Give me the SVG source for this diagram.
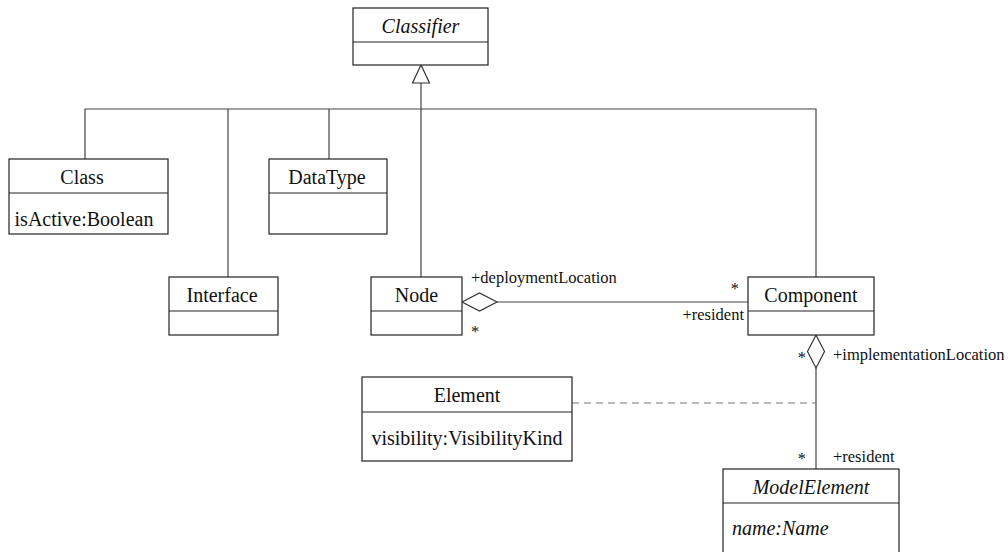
<svg xmlns="http://www.w3.org/2000/svg" width="1008" height="552" viewBox="0 0 1008 552">
<style>
.box{fill:#fff;stroke:#222;stroke-width:1.2}
.div{stroke:#222;stroke-width:1.2}
.ln{fill:none;stroke:#444;stroke-width:1.2}
.dash{fill:none;stroke:#777;stroke-width:1.2;stroke-dasharray:7 5}
.nm{font-family:"Liberation Serif",serif;font-size:20px;fill:#111;text-anchor:middle}
.at{font-family:"Liberation Serif",serif;font-size:20px;fill:#111}
.it{font-style:italic}
.lb{font-family:"Liberation Serif",serif;font-size:16.5px;fill:#111}
</style>
<rect width="1008" height="552" fill="#fff"/>
<g id="connectors">
<path class="ln" d="M85,159 V109 H816 V277"/>
<path class="ln" d="M228,109 V277"/>
<path class="ln" d="M329,109 V159"/>
<path class="ln" d="M421,83 V277"/>
<polygon points="421,65 412.5,83 429.5,83" fill="#fff" stroke="#333" stroke-width="1.2"/>
<path class="ln" d="M497,302 H748"/>
<polygon points="462,302 479.5,293 497,302 479.5,311" fill="#fff" stroke="#333" stroke-width="1.2"/>
<path class="ln" d="M816,368 V469"/>
<polygon points="816,335 824.5,351.5 816,368 807.5,351.5" fill="#fff" stroke="#333" stroke-width="1.2"/>
<path class="dash" d="M572,403 H816"/>
<text class="lb" x="471" y="283">+deploymentLocation</text>
<text class="lb" x="471" y="337">*</text>
<text class="lb" x="739" y="294" text-anchor="end">*</text>
<text class="lb" x="744" y="320" text-anchor="end">+resident</text>
<text class="lb" x="806" y="363" text-anchor="end">*</text>
<text class="lb" x="833" y="360">+implementationLocation</text>
<text class="lb" x="806" y="464" text-anchor="end">*</text>
<text class="lb" x="833" y="462">+resident</text>
</g>
<g id="classifier">
<rect class="box" x="353" y="8" width="135" height="57"/>
<line class="div" x1="353" y1="42" x2="488" y2="42"/>
<text class="nm it" x="420.5" y="33">Classifier</text>
</g>
<g id="class">
<rect class="box" x="9" y="159" width="159" height="75"/>
<line class="div" x1="9" y1="193" x2="168" y2="193"/>
<text class="nm" x="82" y="184">Class</text>
<text class="nm" x="84" y="226">isActive:Boolean</text>
</g>
<g id="datatype">
<rect class="box" x="269" y="159" width="118" height="75"/>
<line class="div" x1="269" y1="193" x2="387" y2="193"/>
<text class="nm" x="327" y="184">DataType</text>
</g>
<g id="interface">
<rect class="box" x="169" y="277" width="109" height="58"/>
<line class="div" x1="169" y1="311" x2="278" y2="311"/>
<text class="nm" x="222" y="302">Interface</text>
</g>
<g id="node">
<rect class="box" x="371" y="277" width="91" height="58"/>
<line class="div" x1="371" y1="311" x2="462" y2="311"/>
<text class="nm" x="416.5" y="302">Node</text>
</g>
<g id="component">
<rect class="box" x="748" y="277" width="126" height="58"/>
<line class="div" x1="748" y1="311" x2="874" y2="311"/>
<text class="nm" x="811" y="302">Component</text>
</g>
<g id="element">
<rect class="box" x="362" y="377" width="210" height="84"/>
<line class="div" x1="362" y1="412" x2="572" y2="412"/>
<text class="nm" x="467" y="402">Element</text>
<text class="nm" x="467" y="445">visibility:VisibilityKind</text>
</g>
<g id="modelelement">
<rect class="box" x="723" y="469" width="176" height="95"/>
<line class="div" x1="723" y1="503" x2="899" y2="503"/>
<text class="nm it" x="811" y="494">ModelElement</text>
<text class="at it" x="732" y="535">name:Name</text>
</g>
</svg>
